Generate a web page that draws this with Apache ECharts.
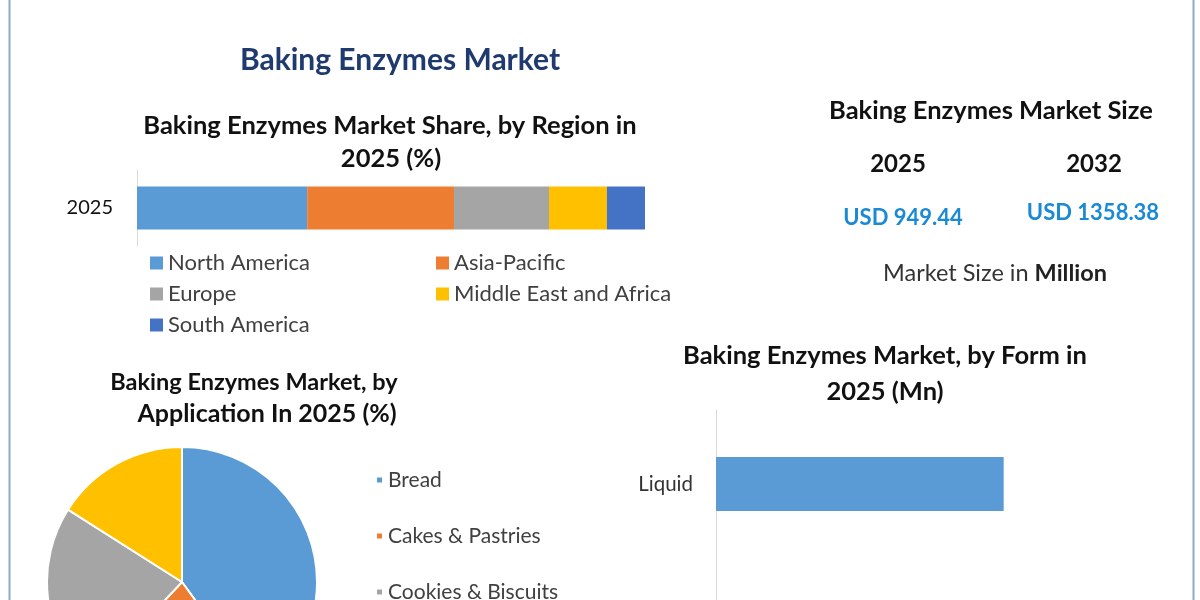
<!DOCTYPE html>
<html>
<head>
<meta charset="utf-8">
<title>Baking Enzymes Market</title>
<script src="https://cdn.jsdelivr.net/npm/echarts@6/dist/echarts.min.js"></script>
<style>
  html, body { margin: 0; padding: 0; background: #fff; }
  #chart { width: 1200px; height: 600px; }
</style>
</head>
<body>
<div id="chart"></div>
<script>
const FONT = 'Lato, "Open Sans", sans-serif';

// region share 2025 (%)
const regionNames = ['North America', 'Asia-Pacific', 'Europe', 'Middle East and Africa', 'South America'];
const regionShare = [33.5, 28.9, 18.7, 11.4, 7.5];
const regionColors = ['#5b9bd5', '#ed7d31', '#a5a5a5', '#ffc000', '#4472c4'];
const regionYear = ['2025'];

// application share 2025 (%)
const appNames = ['Bread', 'Cakes & Pastries', 'Cookies & Biscuits', 'Others'];
const appShare = [40, 22, 22, 16];
const appColors = ['#5b9bd5', '#ed7d31', '#a5a5a5', '#ffc000'];

// form 2025 (Mn)
const formNames = ['Liquid', 'Powder'];
const formValues = [372, 577];

// market size
const sizeYears = ['2025', '2032'];
const sizeValues = ['USD 949.44', 'USD 1358.38'];

const chart = echarts.init(document.getElementById('chart'));

function label(x, y, text, size, opts = {}) {
    return {
        type: 'text',
        x: x,
        y: y,
        silent: true,
        style: Object.assign({
            text: text,
            fontFamily: FONT,
            fontSize: size,
            fontWeight: 'bold',
            fill: '#111',
            align: 'center',
            verticalAlign: 'middle'
        }, opts)
    };
}

const regionSeries = regionNames.map((name, i) => ({
    name: name,
    type: 'bar',
    stack: 'region',
    xAxisIndex: 0,
    yAxisIndex: 0,
    barWidth: 43,
    itemStyle: {color: regionColors[i]},
    data: [regionShare[i]],
    emphasis: {disabled: true}
}));

const regionLegend = (items, left) => ({
    data: items,
    orient: 'vertical', left: left, top: 247, itemGap: 9,
    itemWidth: 13, itemHeight: 13, icon: 'rect', selectedMode: false,
    textStyle: {fontSize: 22, lineHeight: 20, color: '#404040', fontFamily: FONT}
});

// one legend per entry so the column can run past the bottom edge like the reference
const appLegends = appNames.map((name, i) => ({
    data: [name],
    left: 375, top: 469 + i * 56, padding: 0,
    itemWidth: 7, itemHeight: 7, icon: 'rect', selectedMode: false,
    textStyle: {fontSize: 21, lineHeight: 22, color: '#404040', fontFamily: FONT}
}));

const option = {
    backgroundColor: '#fff',
    animation: false,
    textStyle: {fontFamily: FONT},
    grid: [
        {left: 137, top: 170, width: 508, height: 76},
        {left: 716, top: 410, width: 464, height: 296, outerBoundsMode: 'none'}
    ],
    xAxis: [
        {gridIndex: 0, type: 'value', max: 100, show: false},
        {gridIndex: 1, type: 'value', min: 0, max: 600, show: false}
    ],
    yAxis: [
        {
            gridIndex: 0, type: 'category', data: regionYear,
            axisLine: {lineStyle: {color: '#d9d9d9'}},
            axisTick: {show: false},
            axisLabel: {fontSize: 20, color: '#111', margin: 24, fontFamily: FONT}
        },
        {
            gridIndex: 1, type: 'category', data: formNames, inverse: true,
            axisLine: {lineStyle: {color: '#d9d9d9'}},
            axisTick: {show: false},
            axisLabel: {fontSize: 20.5, color: '#333', margin: 23, fontFamily: FONT}
        }
    ],
    legend: [
        regionLegend(['North America', 'Europe', 'South America'], 145),
        regionLegend(['Asia-Pacific', 'Middle East and Africa'], 431)
    ].concat(appLegends),
    series: regionSeries.concat([
        {
            name: 'Application',
            type: 'pie',
            center: [182, 582],
            radius: 135,
            startAngle: 90,
            clockwise: true,
            label: {show: false},
            labelLine: {show: false},
            emphasis: {disabled: true},
            itemStyle: {borderColor: '#fff', borderWidth: 2},
            data: appNames.map((n, i) => ({name: n, value: appShare[i], itemStyle: {color: appColors[i]}}))
        },
        {
            name: 'Form',
            type: 'bar',
            xAxisIndex: 1,
            yAxisIndex: 1,
            barWidth: 54,
            itemStyle: {color: '#5b9bd5'},
            emphasis: {disabled: true},
            data: formValues
        }
    ]),
    graphic: [
        {type: 'line', silent: true, shape: {x1: 9.5, y1: 0, x2: 9.5, y2: 600}, style: {stroke: '#8fa9c6', lineWidth: 2}},
        {type: 'line', silent: true, shape: {x1: 1193.5, y1: 0, x2: 1193.5, y2: 600}, style: {stroke: '#8fa9c6', lineWidth: 2}},
        label(400, 60, 'Baking Enzymes Market', 30, {fill: '#1f3a6e'}),
        label(390, 126, 'Baking Enzymes Market Share, by Region in', 25.5),
        label(391, 159, '2025 (%)', 25.5),
        label(991, 111, 'Baking Enzymes Market Size', 25.5),
        label(898, 164, sizeYears[0], 24),
        label(1094, 164, sizeYears[1], 24),
        label(903, 218, sizeValues[0], 22, {fill: '#1a8ad4'}),
        label(1093, 213, sizeValues[1], 22, {fill: '#1a8ad4'}),
        label(995, 273, 'Market Size in {b|Million}', 23.5, {
            fontWeight: 'normal', fill: '#333',
            rich: {b: {fontWeight: 'bold', fontSize: 23.5, fontFamily: FONT, fill: '#222'}}
        }),
        label(254, 382, 'Baking Enzymes Market, by', 23.5),
        label(267, 414, 'Application In 2025 (%)', 25),
        label(885, 356, 'Baking Enzymes Market, by Form in', 25.5),
        label(885, 392, '2025 (Mn)', 25.5)
    ]
};

chart.setOption(option);
</script>
</body>
</html>
